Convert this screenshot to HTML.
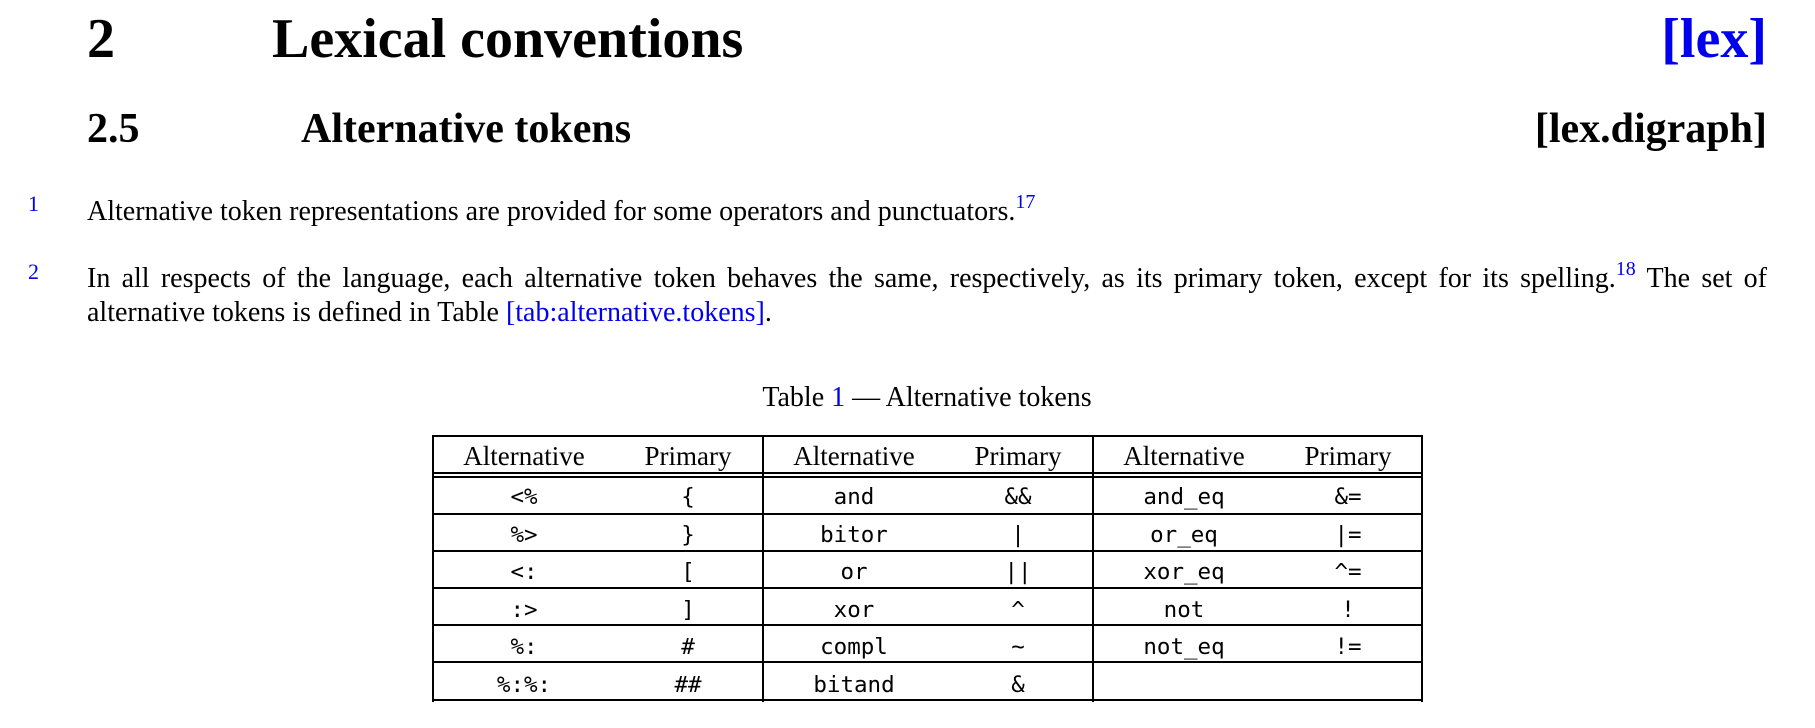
<!DOCTYPE html>
<html><head><meta charset="utf-8">
<style>
body{margin:0;width:1815px;height:728px;background:#fff;position:relative;overflow:hidden;font-family:"Liberation Serif",serif;color:#000}
.a{position:absolute;white-space:nowrap}
a{color:#0000ee;text-decoration:none}
.h1{font-weight:bold;font-size:56px;line-height:1}
.h2{font-weight:bold;font-size:42px;line-height:1}
.p{font-size:28px;line-height:32px}
.pn{font-size:22px;color:#0000ee}
sup{font-size:20px;color:#0000ee;vertical-align:0;position:relative;top:-12px}
.hl{position:absolute;left:432px;width:991px;height:2px;background:#000}
.vl{position:absolute;top:436px;width:2px;height:266px;background:#000}
.c{position:absolute;width:160px;text-align:center;transform:translateX(-80px);line-height:1}
.th{font-size:27px}
.td{font-family:"DejaVu Sans Mono","Liberation Mono",monospace;font-size:22.5px}
</style></head><body>
<div class="a h1" style="left:87px;top:11px">2</div>
<div class="a h1" style="left:272px;top:11px">Lexical conventions</div>
<a class="a h1" href="#lex" style="right:48px;top:11px">[lex]</a>
<div class="a h2" style="left:87px;top:108px">2.5</div>
<div class="a h2" style="left:301px;top:108px">Alternative tokens</div>
<div class="a h2" style="right:48px;top:108px">[lex.digraph]</div>
<div class="a pn" style="left:28px;top:191px">1</div>
<div class="a p" style="left:87px;top:196px">Alternative token representations are provided for some operators and punctuators.<sup>17</sup></div>
<div class="a pn" style="left:28px;top:259px">2</div>
<div class="a p" style="left:87px;top:263px;width:1680px;white-space:normal;text-align:justify;text-align-last:left">In all respects of the language, each alternative token behaves the same, respectively, as its primary token, except for its spelling.<sup>18</sup> The set of alternative tokens is defined in Table <a href="#tab">[tab:alternative.tokens]</a>.</div>
<div class="a p" style="left:927px;top:382px;transform:translateX(-50%)">Table <a href="#t1">1</a> — Alternative tokens</div>
<div id="tbl"></div>
<script>
const headers=["Alternative","Primary"];
const alt1=["<%","%>","<:",":>","%:","%:%:"],pri1=["{","}","[","]","#","##"];
const alt2=["and","bitor","or","xor","compl","bitand"],pri2=["&&","|","||","^","~","&"];
const alt3=["and_eq","or_eq","xor_eq","not","not_eq",""],pri3=["&=","|=","^=","!","!=",""];
const tbl=document.getElementById('tbl');
const lines=[435,472,476,513,550,587,624,661,699];
lines.forEach(y=>{const d=document.createElement('div');d.className='hl';d.style.top=y+'px';


tbl.appendChild(d);});
[432,762,1092,1421].forEach(x=>{const d=document.createElement('div');d.className='vl';d.style.left=x+'px';


tbl.appendChild(d);});
const groups=[[alt1,pri1],[alt2,pri2],[alt3,pri3]];
groups.forEach((g,gi)=>{
 const gx=432+gi*330;
 headers.forEach((h,hi)=>{const d=document.createElement('div');d.className='c th';
 d.style.left=(gx+(hi?256:92))+'px';d.style.top='443px';d.textContent=h;
 
 
 tbl.appendChild(d);});
 for(let r=0;r<6;r++){for(let k=0;k<2;k++){const d=document.createElement('div');d.className='c td';
 d.style.left=(gx+(k?256:92))+'px';d.style.top=(486+r*37.5)+'px';d.textContent=g[k][r];
 
 
 tbl.appendChild(d);}}
});
</script>
</body></html>
